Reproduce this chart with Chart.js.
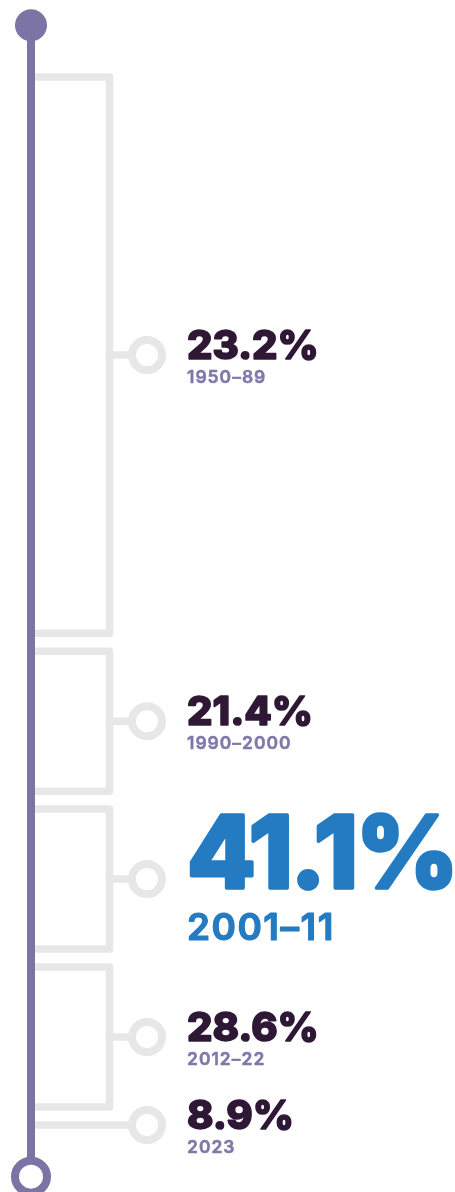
<!DOCTYPE html>
<html>
<head>
<meta charset="utf-8">
<script src="https://cdn.jsdelivr.net/npm/chart.js@4"></script>
<style>
  html, body { margin: 0; padding: 0; background: #fff; }
  canvas { display: block; }
</style>
</head>
<body>
<canvas id="timeline" width="455" height="1192"></canvas>
<script>
// data
const periods = ["1950-89", "1990-2000", "2001-11", "2012-22", "2023"];
const startYears = [1950, 1990, 2001, 2012, 2023];
const endYears = [1989, 2000, 2011, 2022, 2023];
const shares = [23.2, 21.4, 41.1, 28.6, 8.9];

// layout / style
const SPINE_X = 31;
const BRACKET_X = 109.5;
const DOT_X = 147;
const TEXT_X = 187;
const GAP_YEARS = 1.25;   // visual gap between brackets
const SPINE_PAD = 3.6;    // years of spine beyond first / last period
const PURPLE = "#7b74a4";
const GREY = "#e7e7e7";
const DARK = "#2f1836";
const BLUE = "#247bc2";
const LABEL = "#7f78a9";
const FONT = "Inter, 'Noto Sans', sans-serif";

const top_ = (i) => startYears[i];
const bottom_ = (i) => endYears[i] > startYears[i] ? endYears[i] + 1 - GAP_YEARS : startYears[i];
const mid_ = (i) => (top_(i) + bottom_(i)) / 2;
const maxIdx = shares.indexOf(Math.max(...shares));

const datasets = [
  {
    // spine
    data: [
      { x: SPINE_X, y: startYears[0] - SPINE_PAD },
      { x: SPINE_X, y: endYears[endYears.length - 1] + SPINE_PAD },
    ],
    borderColor: PURPLE,
    borderWidth: 8,
    pointRadius: [16, 16],
    pointBackgroundColor: [PURPLE, "#fff"],
    pointBorderColor: PURPLE,
    pointBorderWidth: [0, 8],
    order: 0,
  },
];

periods.forEach((p, i) => {
  const single = endYears[i] === startYears[i];
  if (!single) {
    datasets.push({
      data: [
        { x: SPINE_X, y: top_(i) },
        { x: BRACKET_X, y: top_(i) },
        { x: BRACKET_X, y: bottom_(i) },
        { x: SPINE_X, y: bottom_(i) },
      ],
      borderColor: GREY,
      borderWidth: 7.5,
      borderJoinStyle: "round",
      borderCapStyle: "round",
      pointRadius: 0,
      order: 2,
    });
  }
  datasets.push({
    data: [
      { x: single ? SPINE_X : BRACKET_X, y: mid_(i) },
      { x: DOT_X, y: mid_(i) },
    ],
    borderColor: GREY,
    borderWidth: 7.5,
    borderCapStyle: "round",
    pointRadius: [0, 15],
    pointBackgroundColor: "#fff",
    pointBorderColor: GREY,
    pointBorderWidth: 8,
    order: 1,
  });
});

// bold text: fill plus a thin stroke in the same colour
const heavyText = (ctx, text, x, y, color, weight) => {
  ctx.fillStyle = color;
  ctx.strokeStyle = color;
  ctx.lineWidth = weight;
  ctx.lineJoin = "round";
  ctx.fillText(text, x, y);
  ctx.strokeText(text, x, y);
};

const labelsPlugin = {
  id: "labels",
  afterDatasetsDraw(chart) {
    const { ctx, scales: { y } } = chart;
    ctx.save();
    ctx.textAlign = "left";
    ctx.textBaseline = "alphabetic";
    periods.forEach((p, i) => {
      const big = i === maxIdx;
      const valueSize = big ? 100 : 40;
      const labelSize = big ? 37 : 17.5;
      const base = y.getPixelForValue(mid_(i)) + valueSize * 0.09;
      ctx.font = `800 ${valueSize}px ${FONT}`;
      ctx.letterSpacing = big ? "-2.5px" : "0px";
      heavyText(ctx, shares[i].toFixed(1) + "%", TEXT_X, base, big ? BLUE : DARK, big ? 3.5 : 1.6);
      ctx.font = `600 ${labelSize}px ${FONT}`;
      ctx.letterSpacing = big ? "1.5px" : "1px";
      heavyText(ctx, p.replace("-", "\u2013"), TEXT_X, base + labelSize * 1.4, big ? BLUE : LABEL, big ? 1.2 : 0.5);
    });
    ctx.restore();
  },
};

new Chart(document.getElementById("timeline"), {
  type: "scatter",
  data: { datasets: datasets.map((d) => ({ showLine: true, clip: false, ...d })) },
  options: {
    responsive: false,
    animation: false,
    events: [],
    layout: { padding: 0, autoPadding: false },
    plugins: { legend: { display: false }, tooltip: { enabled: false } },
    scales: {
      x: { type: "linear", min: 0, max: 455, display: false },
      y: { type: "linear", min: 1944.64, max: 2027.67, reverse: true, display: false },
    },
  },
  plugins: [labelsPlugin],
});
</script>
</body>
</html>
